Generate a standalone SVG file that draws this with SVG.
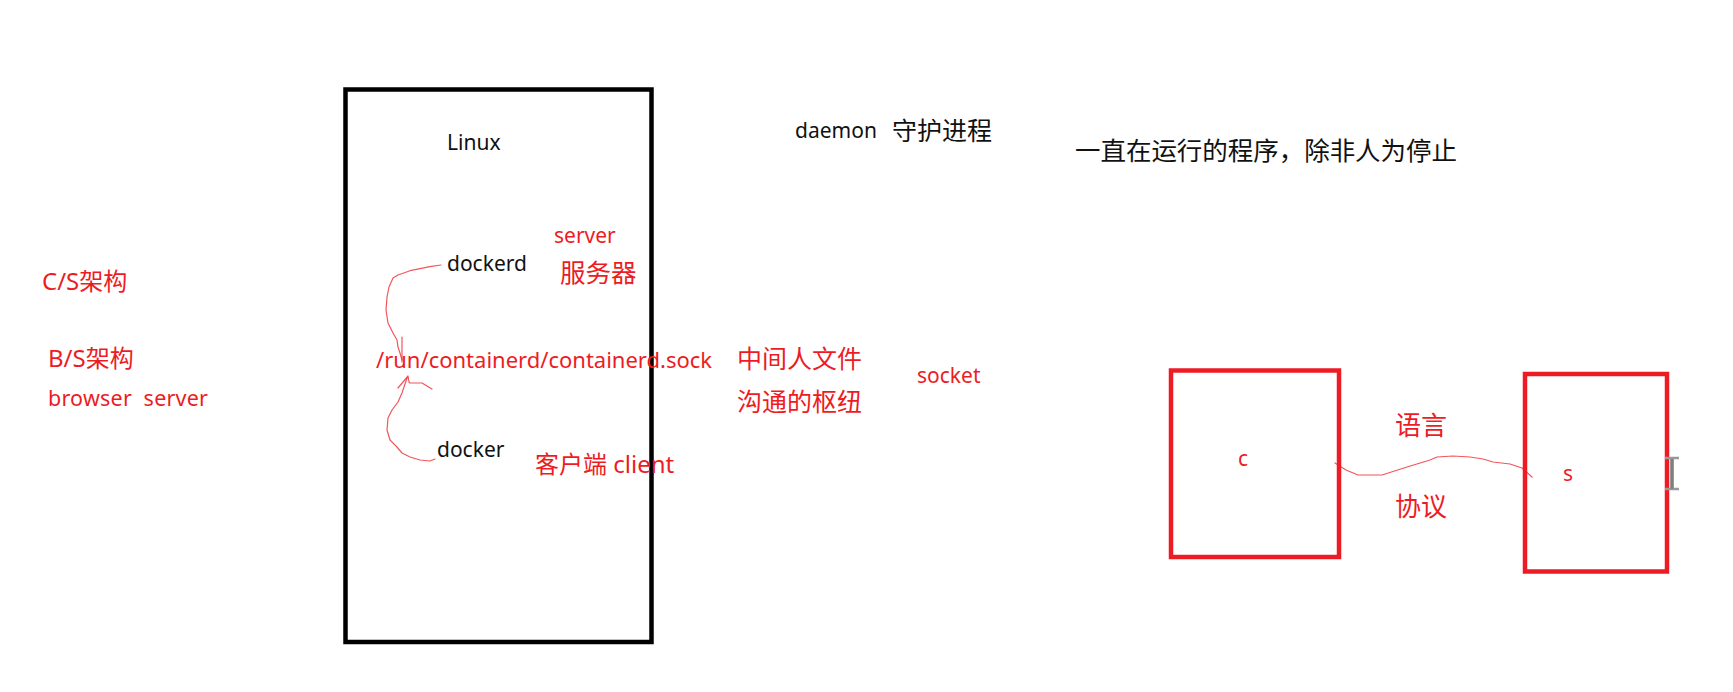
<svg xmlns="http://www.w3.org/2000/svg" width="1733" height="692" viewBox="0 0 1733 692">
<style>
text{font-family:"Noto Sans","Noto Sans CJK SC",sans-serif;white-space:pre}
.k{fill:#111}
.r{fill:#ED1C24}
.lat{font-size:21px}
.cjk{font-size:25px}
.box{fill:none;stroke:#ED1C24;stroke-width:4.5}
.wire{fill:none;stroke:#ED1C24;stroke-width:1.2;stroke-opacity:0.75;stroke-linejoin:round;stroke-linecap:round}
</style>
<rect width="1733" height="692" fill="#fff"/>
<g id="linux">
<rect x="345.5" y="89.5" width="306" height="552.5" fill="none" stroke="#000" stroke-width="4.5"/>
<text class="k lat" x="447" y="150">Linux</text>
</g>
<g id="dockerd">
<text class="k lat" x="447" y="271">dockerd</text>
<text class="r lat" x="554" y="243">server</text>
<text class="r" style="font-size:25.5px" x="560" y="282">服务器</text>
</g>
<g id="sock">
<text class="r" style="font-size:22px" x="376" y="368">/run/containerd/containerd.sock</text>
<text class="r cjk" x="737" y="368">中间人文件</text>
<text class="r cjk" x="737" y="411">沟通的枢纽</text>
<text class="r lat" x="917" y="383">socket</text>
</g>
<g id="docker">
<text class="k lat" x="437" y="457">docker</text>
<text class="r" style="font-size:24px" x="535" y="473">客户端 client</text>
</g>
<g id="arch">
<text class="r" style="font-size:24px" x="42" y="290">C/S架构</text>
<text class="r" style="font-size:24px" x="48" y="367">B/S架构</text>
<text class="r" style="font-size:21.5px" x="48" y="406" textLength="160">browser  server</text>
</g>
<g id="daemon">
<text class="k lat" x="795" y="138">daemon</text>
<text class="k cjk" x="892" y="140">守护进程</text>
<text class="k" style="font-size:25.5px" x="1075" y="160" textLength="382">一直在运行的程序，除非人为停止</text>
</g>
<g id="client">
<rect class="box" x="1171" y="370.5" width="168" height="186.5"/>
<text class="r lat" x="1238" y="466">c</text>
</g>
<g id="server">
<rect class="box" x="1525" y="374" width="142" height="197.5"/>
<text class="r lat" x="1563" y="481">s</text>
<g stroke-linecap="butt">
<path d="M1672 458 V490" stroke="#999" stroke-width="4"/>
<path d="M1665 458 H1679 M1665 489 H1679" stroke="#999" stroke-width="2.5"/>
<path d="M1672 459 V489" stroke="#777" stroke-width="1.5"/>
</g>
</g>
<g id="labels">
<text class="r" style="font-size:26px" x="1395" y="435">语言</text>
<text class="r" style="font-size:26px" x="1395" y="516">协议</text>
</g>
<g id="connectors">
<path class="wire" d="M441 265 L430 266.7 L410 270.7 L398 275 L393 278 L389 287 L387 297 L386 310 L388 323 L393 333 L397 340 L398 347 L400 353 L402 360"/>
<path class="wire" d="M402 337 L402 362"/>
<path class="wire" d="M398 388 L408 376 L409 382 L410 383 L422 383 L432 389"/>
<path class="wire" d="M407 378 L402 393 L398 402 L392 410 L388 418 L387 430 L390 440 L397 447 L402 453 L410 457 L420 460 L430 461 L435 459"/>
<path class="wire" d="M1335 463 L1346 470 L1358 475 L1382 475 L1407 467 L1430 460 L1437 457 L1453 456 L1470 457 L1483 459 L1493 462 L1510 464 L1522 468 L1532 477"/>
</g>
</svg>
